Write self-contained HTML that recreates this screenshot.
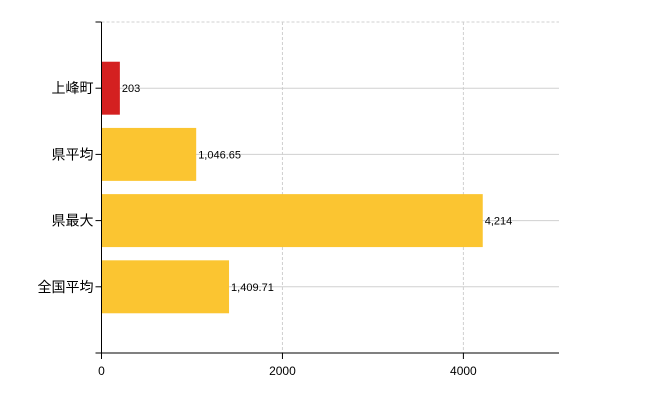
<!DOCTYPE html>
<html><head><meta charset="utf-8"><style>
body{margin:0;background:#fff}
svg text{font-family:"Liberation Sans","Noto Sans CJK JP",sans-serif}
</style></head><body>
<svg id="chart" width="650" height="400" xmlns="http://www.w3.org/2000/svg"></svg>
<script>
const categories=["上峰町","県平均","県最大","全国平均"];
const values=[203,1046.65,4214,1409.71];
const valueLabels=["203","1,046.65","4,214","1,409.71"];
const xTicks=[0,2000,4000];
const colors=["#d42020","#fbc531","#fbc531","#fbc531"];
const svg=document.getElementById('chart');
const NS="http://www.w3.org/2000/svg";
const L=101.5,R=559,T=22,B=353;
const xMax=Math.max(...values)*1.2;
const x=v=>L+(v/xMax)*(R-L);
const band=(B-T)/(categories.length+1);
const yc=i=>T+band*(i+1);
function mk(tag,attrs,name){const e=document.createElementNS(NS,tag);for(const k in attrs)e.setAttribute(k,attrs[k]);


svg.appendChild(e);return e;}
mk('line',{x1:L,y1:T,x2:R,y2:T,stroke:'#d0d0d0','stroke-dasharray':'3,2'},'top-gridline');
xTicks.forEach(t=>{if(t>0)mk('line',{x1:x(t),y1:T,x2:x(t),y2:B,stroke:'#d0d0d0','stroke-dasharray':'3,2'},'x-gridline');});
categories.forEach((c,i)=>{mk('line',{x1:L,y1:yc(i),x2:R,y2:yc(i),stroke:'#d0d0d0'},'y-gridline');});
categories.forEach((c,i)=>{
 const h=band*0.8;
 mk('rect',{x:L,y:yc(i)-h/2,width:x(values[i])-L,height:h,fill:colors[i]},'bar-'+i);
 const t=mk('text',{x:x(values[i])+2,y:yc(i)+4,'font-size':11,fill:'#000'},'value-label');t.textContent=valueLabels[i];
 mk('line',{x1:L-6,y1:yc(i),x2:L,y2:yc(i),stroke:'#000'},'y-tick');
 const lt=mk('text',{x:L-8,y:yc(i)+5,'font-size':14,'text-anchor':'end',fill:'#000'},'y-tick-label');lt.textContent=c;
});
mk('line',{x1:L-6,y1:T,x2:L,y2:T,stroke:'#000'},'y-tick-top');
mk('line',{x1:L,y1:T,x2:L,y2:B+6,stroke:'#000'},'y-axis');
mk('line',{x1:L-6,y1:B,x2:R,y2:B,stroke:'#000'},'x-axis');
xTicks.forEach(t=>{mk('line',{x1:x(t),y1:B,x2:x(t),y2:B+6,stroke:'#000'},'x-tick');
 const tt=mk('text',{x:x(t),y:B+22,'font-size':12,'text-anchor':'middle',fill:'#000'},'x-tick-label');tt.textContent=t;});
</script>
</body></html>
